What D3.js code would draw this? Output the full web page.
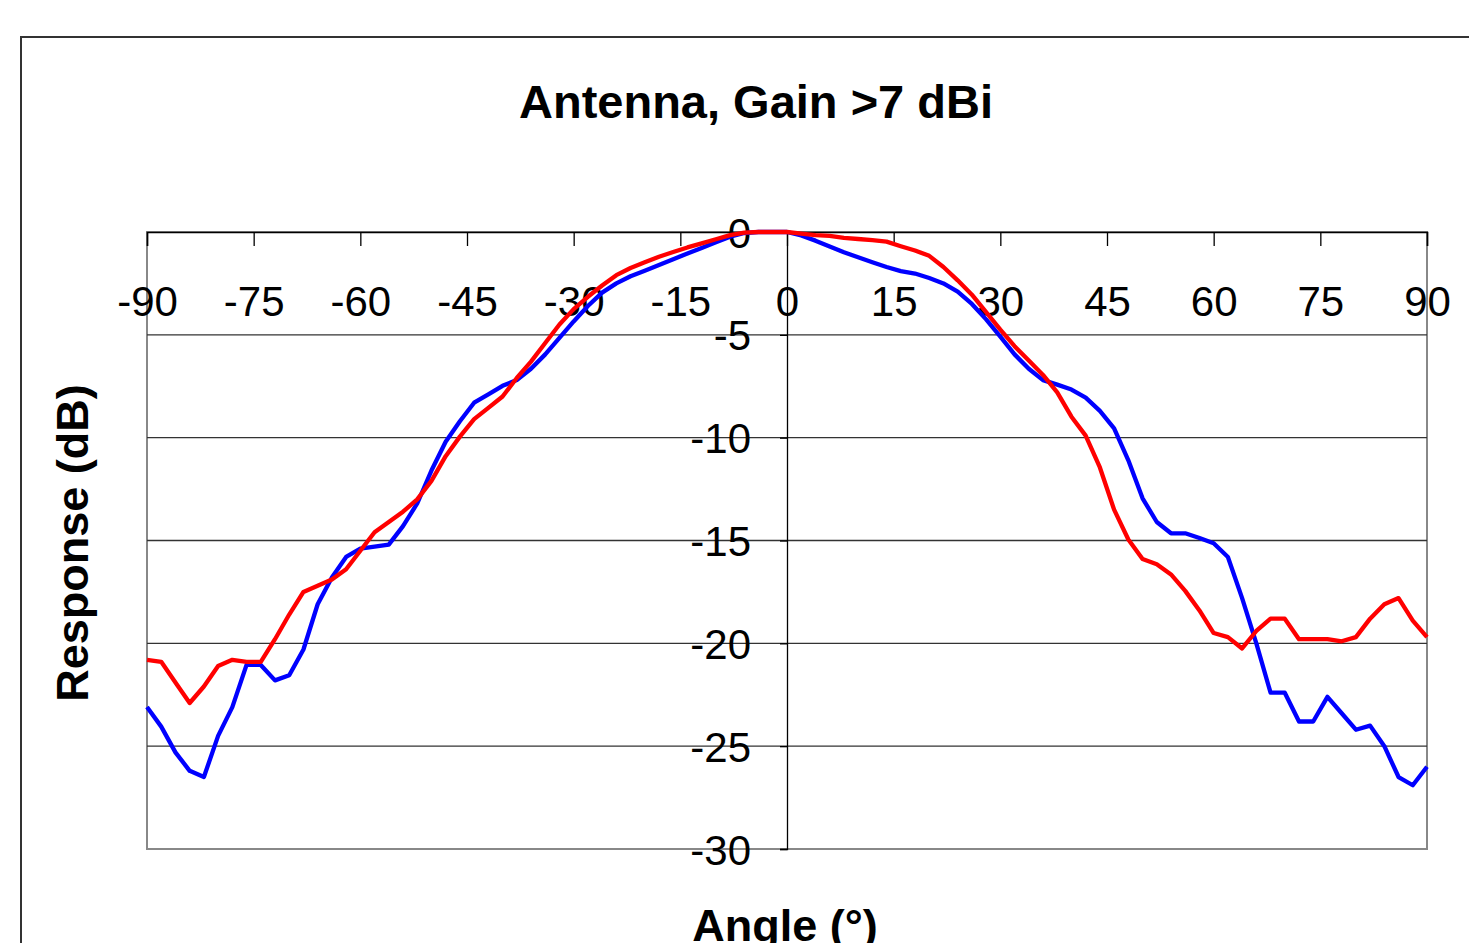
<!DOCTYPE html>
<html><head><meta charset="utf-8">
<script src="https://cdn.jsdelivr.net/npm/d3@7"></script>
<style>body{margin:0;background:#fff;overflow:hidden}svg{display:block}</style>
</head><body>
<svg id="chart" width="1469" height="943"></svg>
<script>
const title = "Antenna, Gain >7 dBi";
const xLabel = "Angle (°)";
const yLabel = "Response (dB)";
const xTicks = [-90,-75,-60,-45,-30,-15,0,15,30,45,60,75,90];
const yTicks = [0,-5,-10,-15,-20,-25,-30];
const angles = [-90,-88,-86,-84,-82,-80,-78,-76,-74,-72,-70,-68,-66,-64,-62,-60,-58,-56,-54,-52,-50,-48,-46,-44,-42,-40,-38,-36,-34,-32,-30,-28,-26,-24,-22,-20,-18,-16,-14,-12,-10,-8,-6,-4,-2,0,2,4,6,8,10,12,14,16,18,20,22,24,26,28,30,32,34,36,38,40,42,44,46,48,50,52,54,56,58,60,62,64,66,68,70,72,74,76,78,80,82,84,86,88,90];
const blueSeries = [-23.1,-24.05,-25.3,-26.2,-26.5,-24.5,-23.1,-21.05,-21.05,-21.8,-21.55,-20.3,-18.1,-16.8,-15.8,-15.4,-15.3,-15.2,-14.3,-13.2,-11.6,-10.2,-9.2,-8.3,-7.9,-7.48,-7.2,-6.65,-5.95,-5.15,-4.35,-3.6,-2.95,-2.5,-2.15,-1.88,-1.6,-1.32,-1.05,-0.78,-0.5,-0.23,-0.05,0,0,0,-0.17,-0.42,-0.7,-0.98,-1.23,-1.47,-1.7,-1.9,-2.02,-2.24,-2.5,-2.9,-3.5,-4.25,-5.09,-5.95,-6.65,-7.2,-7.42,-7.66,-8.05,-8.7,-9.55,-11.1,-12.95,-14.1,-14.65,-14.65,-14.88,-15.13,-15.8,-17.8,-20.0,-22.4,-22.4,-23.8,-23.8,-22.6,-23.4,-24.2,-24.0,-25.0,-26.5,-26.9,-26.0];
const redSeries = [-20.8,-20.9,-21.9,-22.9,-22.1,-21.1,-20.8,-20.9,-20.9,-19.8,-18.6,-17.5,-17.2,-16.9,-16.4,-15.5,-14.6,-14.1,-13.6,-13.0,-12.1,-10.9,-9.95,-9.1,-8.55,-8.0,-7.1,-6.3,-5.4,-4.5,-3.75,-3.15,-2.6,-2.1,-1.75,-1.47,-1.2,-0.97,-0.75,-0.55,-0.35,-0.15,-0.03,0,0,0,-0.08,-0.15,-0.19,-0.29,-0.34,-0.4,-0.47,-0.69,-0.9,-1.16,-1.7,-2.35,-3.05,-3.9,-4.75,-5.55,-6.25,-6.95,-7.8,-8.98,-9.9,-11.45,-13.5,-14.95,-15.9,-16.15,-16.65,-17.45,-18.4,-19.5,-19.7,-20.25,-19.4,-18.8,-18.8,-19.8,-19.8,-19.8,-19.9,-19.7,-18.8,-18.1,-17.8,-18.9,-19.7];

const svg = d3.select("#chart");
const font = "Arial, 'Liberation Sans', Helvetica, sans-serif";
const L = 147, R = 1427, T = 232, B = 849;
const x = d3.scaleLinear().domain([-90, 90]).range([L, R]);
const y = d3.scaleLinear().domain([-30, 0]).range([B, T]);
const fmt = d => String(d);

// outer chart frame
svg.append("path").attr("d", "M21,1000 L21,37 L1500,37")
  .attr("fill", "none").attr("stroke", "#333").attr("stroke-width", 2);

// plot area border
svg.append("rect").attr("x", L).attr("y", T).attr("width", R - L).attr("height", B - T)
  .attr("fill", "none").attr("stroke", "#888").attr("stroke-width", 2);

// gridlines
svg.append("g").selectAll("line").data(yTicks.filter(d => d !== 0 && d !== -30)).join("line")
  .attr("x1", L).attr("x2", R).attr("y1", d => y(d)).attr("y2", d => y(d))
  .attr("stroke", "#333").attr("stroke-width", 1.3);

// y axis at x=0
const yAxis = d3.axisLeft(y).tickValues(yTicks).tickSize(7).tickFormat(fmt);
const gy = svg.append("g").attr("transform", `translate(${x(0)},0)`).call(yAxis);
gy.select(".domain").attr("stroke", "#000").attr("stroke-width", 1.3);
gy.selectAll(".tick line").attr("stroke", "#000").attr("stroke-width", 1.3);
gy.selectAll(".tick text").attr("font-family", font).attr("font-size", 42)
  .attr("fill", "#000").attr("x", -36).attr("dy", "0.36em");

// x axis at top (y=0) with ticks pointing down
const xAxis = d3.axisBottom(x).tickValues(xTicks).tickSize(14).tickFormat(fmt);
const gx = svg.append("g").attr("transform", `translate(0,${y(0)})`).call(xAxis);
gx.select(".domain").attr("stroke", "#000").attr("stroke-width", 1.5);
gx.selectAll(".tick line").attr("stroke", "#000").attr("stroke-width", 1.3);
gx.selectAll(".tick text").attr("font-family", font).attr("font-size", 42)
  .attr("fill", "#000").attr("y", 54).attr("dy", "0.71em");

// lines
const line = d3.line().x((d, i) => x(angles[i])).y(d => y(d));
svg.append("path").datum(blueSeries).attr("d", line)
  .attr("fill", "none").attr("stroke", "#0000ff").attr("stroke-width", 4.3).attr("stroke-linejoin", "round");
svg.append("path").datum(redSeries).attr("d", line)
  .attr("fill", "none").attr("stroke", "#ff0000").attr("stroke-width", 4.3).attr("stroke-linejoin", "round");

// titles
svg.append("text").attr("x", 756).attr("y", 118).attr("text-anchor", "middle")
  .attr("font-family", font).attr("font-weight", "bold").attr("font-size", 47).text(title);
svg.append("text").attr("transform", "translate(88,543) rotate(-90)").attr("text-anchor", "middle")
  .attr("font-family", font).attr("font-weight", "bold").attr("font-size", 45).text(yLabel);
svg.append("text").attr("x", 785).attr("y", 941).attr("text-anchor", "middle")
  .attr("font-family", font).attr("font-weight", "bold").attr("font-size", 45).text(xLabel);
</script>
</body></html>
